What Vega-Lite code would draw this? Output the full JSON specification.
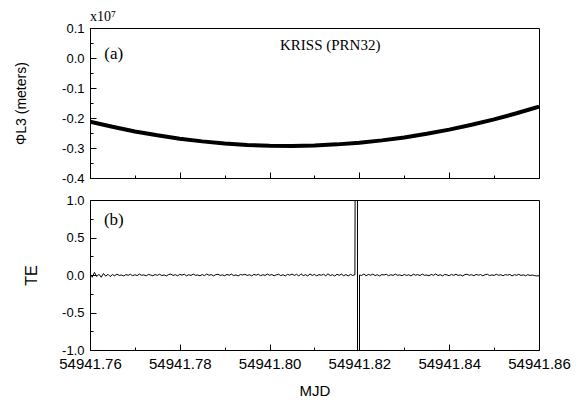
{
  "$schema": "https://vega.github.io/schema/vega-lite/v6.json",
  "background": "white",
  "padding": {"left": 14, "top": 9, "right": 5, "bottom": 2},
  "spacing": 7,
  "config": {
    "locale": {"number": {"decimal": ".", "thousands": ",", "grouping": [3], "currency": ["$", ""], "minus": "-"}},
    "view": {"stroke": "black", "strokeWidth": 1},
    "axis": {"domainColor": "black", "tickColor": "black", "labelColor": "black", "titleColor": "black", "grid": false, "labelFont": "Liberation Sans", "titleFont": "Liberation Sans", "titleFontWeight": "normal", "tickWidth": 1, "domainWidth": 1, "labelOverlap": false, "labelFlush": false}
  },
  "vconcat": [
    {
      "width": 449,
      "height": 150,
      "title": {"text": "x10⁷", "anchor": "start", "frame": "group", "font": "Liberation Serif", "fontSize": 14, "fontWeight": "normal", "offset": -2, "color": "black"},
      "layer": [
        {
          "data": {"values": [
            {"t": 54941.760, "v": -0.2121}, {"t": 54941.765, "v": -0.2294}, {"t": 54941.770, "v": -0.2447},
            {"t": 54941.775, "v": -0.2578}, {"t": 54941.780, "v": -0.2689}, {"t": 54941.785, "v": -0.2779},
            {"t": 54941.790, "v": -0.2848}, {"t": 54941.795, "v": -0.2896}, {"t": 54941.800, "v": -0.2923},
            {"t": 54941.805, "v": -0.2930}, {"t": 54941.810, "v": -0.2915}, {"t": 54941.815, "v": -0.2879},
            {"t": 54941.820, "v": -0.2823}, {"t": 54941.825, "v": -0.2746}, {"t": 54941.830, "v": -0.2647},
            {"t": 54941.835, "v": -0.2528}, {"t": 54941.840, "v": -0.2388}, {"t": 54941.845, "v": -0.2227},
            {"t": 54941.850, "v": -0.2046}, {"t": 54941.855, "v": -0.1843}, {"t": 54941.860, "v": -0.1619}
          ]},
          "mark": {"type": "line", "color": "black", "strokeWidth": 4, "clip": true},
          "encoding": {
            "x": {"field": "t", "type": "quantitative", "scale": {"domain": [54941.76, 54941.86], "nice": false, "zero": false},
              "axis": {"title": null, "labels": false, "tickCount": 30, "values": [54941.76, 54941.77, 54941.78, 54941.79, 54941.80, 54941.81, 54941.82, 54941.83, 54941.84, 54941.85, 54941.86],
                "tickSize": {"condition": {"test": "round(datum.value*100) % 2 == 0", "value": -6}, "value": -3}}},
            "y": {"field": "v", "type": "quantitative", "scale": {"domain": [-0.4, 0.1], "nice": false, "zero": false},
              "axis": {"title": "ΦL3 (meters)", "titleFontSize": 14, "titlePadding": 33, "labelFontSize": 13, "labelPadding": 12, "labelOverlap": false, "labelFlush": false, "tickCount": 30,
                "values": [-0.4, -0.35, -0.3, -0.25, -0.2, -0.15, -0.1, -0.05, 0, 0.05, 0.1],
                "labelExpr": "round(datum.value*100) % 10 == 0 ? format(datum.value, '.1f') : ''",
                "tickSize": {"condition": {"test": "round(datum.value*100) % 10 == 0", "value": -6}, "value": -3}}}
          }
        },
        {
          "data": {"values": [{"t": 54941.7653, "v": 0.013, "label": "(a)"}, {"t": 54941.8135, "v": 0.042, "label": "KRISS (PRN32)"}]},
          "mark": {"type": "text", "font": "Liberation Serif", "color": "black"},
          "encoding": {
            "x": {"field": "t", "type": "quantitative"},
            "y": {"field": "v", "type": "quantitative"},
            "text": {"field": "label"},
            "size": {"condition": {"test": "datum.label == '(a)'", "value": 17}, "value": 15}
          }
        }
      ]
    },
    {
      "width": 449,
      "height": 150,
      "layer": [
        {
          "data": {"values": [
            {"t": 54941.7600, "v": 0.02}, {"t": 54941.7605, "v": -0.03}, {"t": 54941.7610, "v": 0.035}, {"t": 54941.7615, "v": -0.02}, {"t": 54941.7620, "v": 0.01},
            {"t": 54941.7625, "v": -0.03}, {"t": 54941.7630, "v": 0.02}, {"t": 54941.7635, "v": -0.015}, {"t": 54941.7640, "v": 0.01}, {"t": 54941.7645, "v": -0.02},
            {"t": 54941.7650, "v": 0.005}, {"t": 54941.7655, "v": -0.01}, {"t": 54941.7660, "v": 0.012}, {"t": 54941.7665, "v": -0.006}, {"t": 54941.7670, "v": 0.0},
            {"t": 54941.7675, "v": -0.012}, {"t": 54941.7680, "v": 0.006}, {"t": 54941.7685, "v": -0.004}, {"t": 54941.7690, "v": 0.01}, {"t": 54941.7695, "v": -0.01},
            {"t": 54941.7700, "v": 0.004}, {"t": 54941.7705, "v": -0.008}, {"t": 54941.7710, "v": 0.012}, {"t": 54941.7715, "v": -0.004}, {"t": 54941.7720, "v": 0.002},
            {"t": 54941.7725, "v": -0.012}, {"t": 54941.7730, "v": 0.008}, {"t": 54941.7735, "v": 0.0}, {"t": 54941.7740, "v": -0.01}, {"t": 54941.7745, "v": 0.006},
            {"t": 54941.7750, "v": -0.004}, {"t": 54941.7755, "v": 0.01}, {"t": 54941.7760, "v": -0.008}, {"t": 54941.7765, "v": 0.002}, {"t": 54941.7770, "v": -0.012},
            {"t": 54941.7775, "v": 0.006}, {"t": 54941.7780, "v": 0.012}, {"t": 54941.7785, "v": -0.006}, {"t": 54941.7790, "v": 0.004}, {"t": 54941.7795, "v": -0.01},
            {"t": 54941.7800, "v": 0.008}, {"t": 54941.7805, "v": -0.002}, {"t": 54941.7810, "v": 0.01}, {"t": 54941.7815, "v": -0.012}, {"t": 54941.7820, "v": 0.004},
            {"t": 54941.7825, "v": -0.006}, {"t": 54941.7830, "v": 0.012}, {"t": 54941.7835, "v": -0.004}, {"t": 54941.7840, "v": 0.0}, {"t": 54941.7845, "v": -0.01},
            {"t": 54941.7850, "v": 0.006}, {"t": 54941.7855, "v": -0.008}, {"t": 54941.7860, "v": 0.014}, {"t": 54941.7865, "v": -0.004}, {"t": 54941.7870, "v": 0.006},
            {"t": 54941.7875, "v": -0.012}, {"t": 54941.7880, "v": 0.004}, {"t": 54941.7885, "v": 0.01}, {"t": 54941.7890, "v": -0.006}, {"t": 54941.7895, "v": 0.002},
            {"t": 54941.7900, "v": -0.01}, {"t": 54941.7905, "v": 0.008}, {"t": 54941.7910, "v": -0.004}, {"t": 54941.7915, "v": 0.012}, {"t": 54941.7920, "v": -0.008},
            {"t": 54941.7925, "v": 0.002}, {"t": 54941.7930, "v": -0.012}, {"t": 54941.7935, "v": 0.006}, {"t": 54941.7940, "v": 0.0}, {"t": 54941.7945, "v": 0.01},
            {"t": 54941.7950, "v": -0.006}, {"t": 54941.7955, "v": 0.004}, {"t": 54941.7960, "v": -0.012}, {"t": 54941.7965, "v": 0.008}, {"t": 54941.7970, "v": -0.002},
            {"t": 54941.7975, "v": 0.01}, {"t": 54941.7980, "v": -0.01}, {"t": 54941.7985, "v": 0.004}, {"t": 54941.7990, "v": -0.006}, {"t": 54941.7995, "v": 0.012},
            {"t": 54941.8000, "v": -0.004}, {"t": 54941.8005, "v": 0.006}, {"t": 54941.8010, "v": -0.01}, {"t": 54941.8015, "v": 0.002}, {"t": 54941.8020, "v": 0.01},
            {"t": 54941.8025, "v": -0.008}, {"t": 54941.8030, "v": 0.004}, {"t": 54941.8035, "v": -0.012}, {"t": 54941.8040, "v": 0.008}, {"t": 54941.8045, "v": -0.002},
            {"t": 54941.8050, "v": 0.012}, {"t": 54941.8055, "v": -0.006}, {"t": 54941.8060, "v": 0.01}, {"t": 54941.8065, "v": -0.014}, {"t": 54941.8070, "v": 0.016},
            {"t": 54941.8075, "v": -0.008}, {"t": 54941.8080, "v": 0.004}, {"t": 54941.8085, "v": -0.012}, {"t": 54941.8090, "v": 0.014}, {"t": 54941.8095, "v": -0.006},
            {"t": 54941.8100, "v": 0.008}, {"t": 54941.8105, "v": -0.012}, {"t": 54941.8110, "v": 0.006}, {"t": 54941.8115, "v": -0.004}, {"t": 54941.8120, "v": 0.01},
            {"t": 54941.8125, "v": -0.01}, {"t": 54941.8130, "v": 0.016}, {"t": 54941.8135, "v": -0.008}, {"t": 54941.8140, "v": 0.004}, {"t": 54941.8145, "v": -0.014},
            {"t": 54941.8150, "v": 0.01}, {"t": 54941.8155, "v": -0.004}, {"t": 54941.8160, "v": 0.012}, {"t": 54941.8165, "v": -0.01}, {"t": 54941.8170, "v": 0.006},
            {"t": 54941.8175, "v": -0.012}, {"t": 54941.8180, "v": 0.008}, {"t": 54941.8185, "v": -0.006}, {"t": 54941.8190, "v": 0.004},
            {"t": 54941.81913, "v": 3}, {"t": 54941.81957, "v": 3}, {"t": 54941.81958, "v": -3}, {"t": 54941.82001, "v": -3}, {"t": 54941.82002, "v": 0.0},
            {"t": 54941.8205, "v": -0.006}, {"t": 54941.8210, "v": 0.014}, {"t": 54941.8215, "v": -0.01}, {"t": 54941.8220, "v": 0.008},
            {"t": 54941.8225, "v": -0.004}, {"t": 54941.8230, "v": 0.012}, {"t": 54941.8235, "v": -0.008}, {"t": 54941.8240, "v": 0.004}, {"t": 54941.8245, "v": -0.012},
            {"t": 54941.8250, "v": 0.006}, {"t": 54941.8255, "v": 0.0}, {"t": 54941.8260, "v": 0.01}, {"t": 54941.8265, "v": -0.01}, {"t": 54941.8270, "v": 0.004},
            {"t": 54941.8275, "v": -0.006}, {"t": 54941.8280, "v": 0.012}, {"t": 54941.8285, "v": -0.004}, {"t": 54941.8290, "v": 0.002}, {"t": 54941.8295, "v": -0.01},
            {"t": 54941.8300, "v": 0.008}, {"t": 54941.8305, "v": -0.006}, {"t": 54941.8310, "v": 0.004}, {"t": 54941.8315, "v": -0.012}, {"t": 54941.8320, "v": 0.01},
            {"t": 54941.8325, "v": -0.002}, {"t": 54941.8330, "v": 0.006}, {"t": 54941.8335, "v": -0.008}, {"t": 54941.8340, "v": 0.012}, {"t": 54941.8345, "v": -0.004},
            {"t": 54941.8350, "v": 0.0}, {"t": 54941.8355, "v": -0.01}, {"t": 54941.8360, "v": 0.008}, {"t": 54941.8365, "v": -0.004}, {"t": 54941.8370, "v": 0.014},
            {"t": 54941.8375, "v": -0.008}, {"t": 54941.8380, "v": 0.004}, {"t": 54941.8385, "v": -0.012}, {"t": 54941.8390, "v": 0.006}, {"t": 54941.8395, "v": 0.002},
            {"t": 54941.8400, "v": -0.01}, {"t": 54941.8405, "v": 0.008}, {"t": 54941.8410, "v": -0.004}, {"t": 54941.8415, "v": 0.01}, {"t": 54941.8420, "v": -0.006},
            {"t": 54941.8425, "v": 0.002}, {"t": 54941.8430, "v": -0.012}, {"t": 54941.8435, "v": 0.006}, {"t": 54941.8440, "v": 0.01}, {"t": 54941.8445, "v": -0.004},
            {"t": 54941.8450, "v": 0.004}, {"t": 54941.8455, "v": -0.01}, {"t": 54941.8460, "v": 0.008}, {"t": 54941.8465, "v": -0.002}, {"t": 54941.8470, "v": 0.006},
            {"t": 54941.8475, "v": -0.012}, {"t": 54941.8480, "v": 0.004}, {"t": 54941.8485, "v": 0.01}, {"t": 54941.8490, "v": -0.008}, {"t": 54941.8495, "v": 0.002},
            {"t": 54941.8500, "v": -0.006}, {"t": 54941.8505, "v": 0.01}, {"t": 54941.8510, "v": -0.004}, {"t": 54941.8515, "v": 0.004}, {"t": 54941.8520, "v": -0.01},
            {"t": 54941.8525, "v": 0.006}, {"t": 54941.8530, "v": -0.002}, {"t": 54941.8535, "v": 0.008}, {"t": 54941.8540, "v": -0.012}, {"t": 54941.8545, "v": 0.004},
            {"t": 54941.8550, "v": -0.004}, {"t": 54941.8555, "v": 0.008}, {"t": 54941.8560, "v": -0.006}, {"t": 54941.8565, "v": 0.002}, {"t": 54941.8570, "v": -0.01},
            {"t": 54941.8575, "v": 0.004}, {"t": 54941.8580, "v": -0.006}, {"t": 54941.8585, "v": 0.0}, {"t": 54941.8590, "v": -0.008}, {"t": 54941.8595, "v": -0.012},
            {"t": 54941.8600, "v": -0.01}
          ]},
          "mark": {"type": "line", "color": "black", "strokeWidth": 1, "clip": true},
          "encoding": {
            "x": {"field": "t", "type": "quantitative", "scale": {"domain": [54941.76, 54941.86], "nice": false, "zero": false},
              "axis": {"title": "MJD", "titleFontSize": 15, "labelFontSize": 15, "labelPadding": 12, "titlePadding": 9, "labelOverlap": false, "labelFlush": false, "tickCount": 30,
                "values": [54941.76, 54941.77, 54941.78, 54941.79, 54941.80, 54941.81, 54941.82, 54941.83, 54941.84, 54941.85, 54941.86],
                "labelExpr": "round(datum.value*100) % 2 == 0 ? format(datum.value, '.2f') : ''",
                "tickSize": {"condition": {"test": "round(datum.value*100) % 2 == 0", "value": -6}, "value": -3}}},
            "y": {"field": "v", "type": "quantitative", "scale": {"domain": [-1, 1], "nice": false, "zero": false},
              "axis": {"title": "TE", "titleFontSize": 16, "titlePadding": 22, "labelFontSize": 13, "labelPadding": 12, "labelOverlap": false, "labelFlush": false, "tickCount": 30,
                "values": [-1, -0.75, -0.5, -0.25, 0, 0.25, 0.5, 0.75, 1],
                "labelExpr": "round(datum.value*100) % 50 == 0 ? format(datum.value, '.1f') : ''",
                "tickSize": {"condition": {"test": "round(datum.value*100) % 50 == 0", "value": -6}, "value": -3}}}
          }
        },
        {
          "data": {"values": [{"t": 54941.7653, "v": 0.73, "label": "(b)"}]},
          "mark": {"type": "text", "font": "Liberation Serif", "fontSize": 17, "color": "black"},
          "encoding": {
            "x": {"field": "t", "type": "quantitative"},
            "y": {"field": "v", "type": "quantitative"},
            "text": {"field": "label"}
          }
        }
      ]
    }
  ]
}
